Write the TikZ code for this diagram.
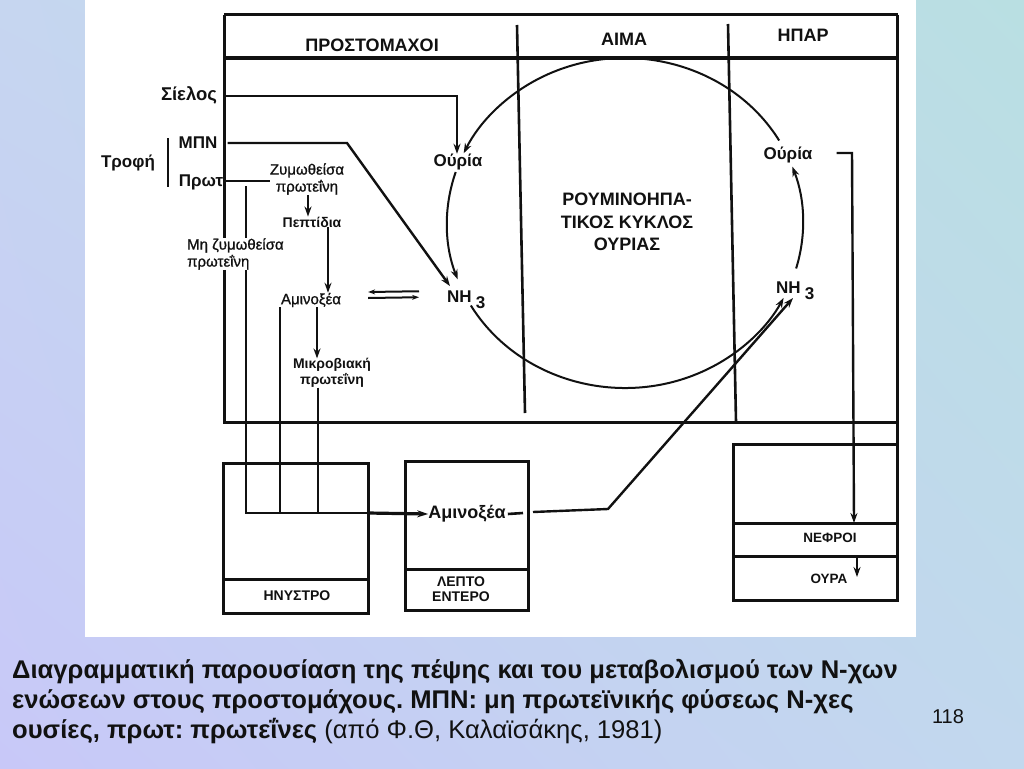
\documentclass[tikz,border=0pt]{standalone}
\usepackage{fontspec}
\setmainfont{Liberation Sans}
\newfontfamily\medfont[FakeBold=1]{Liberation Sans}
\usetikzlibrary{arrows.meta,calc,shadings}
\definecolor{bgUL}{HTML}{C6D6F0}
\definecolor{bgUR}{HTML}{B9DFE2}
\definecolor{bgLL}{HTML}{C8C8F8}
\definecolor{bgLR}{HTML}{C2D8EE}
\definecolor{ink}{HTML}{111111}
\frenchspacing
\begin{document}
\begin{tikzpicture}[x=1pt,y=-1pt,
  every node/.style={inner sep=0pt,text=ink},
  ln/.style={draw=ink,line width=2.6pt},
  frm/.style={draw=ink,line width=3pt},
  arr/.style={draw=ink,line width=2.4pt,-{Stealth[length=10pt,width=7pt]}},
  carr/.style={draw=ink,line width=2pt,-{Stealth[length=10pt,width=7pt]}},
  sarr/.style={draw=ink,line width=2pt,-{Stealth[length=7pt,width=5pt]}},
  hdr/.style={font=\fontsize{18}{20}\selectfont\bfseries},
  blab/.style={font=\fontsize{17}{19}\selectfont\bfseries},
  rlab/.style={font=\fontsize{15}{17}\selectfont\medfont,align=center},
  bsml/.style={font=\fontsize{14}{15.5}\selectfont\bfseries,align=center},
  tiny/.style={font=\fontsize{13.5}{15}\selectfont\bfseries},
  capb/.style={font=\fontsize{25.6}{30}\selectfont\bfseries,anchor=base west},
]
\useasboundingbox (0,0) rectangle (1024,768);
\shade[upper left=bgUL,upper right=bgUR,lower left=bgLL,lower right=bgLR] (0,0) rectangle (1024,768);
\fill[white] (85,0) rectangle (916,637);

% ---------- labels ----------
\node[hdr] (hP) at (372,45) {ΠΡΟΣΤΟΜΑΧΟΙ};
\node[hdr] (hA) at (624,39) {ΑΙΜΑ};
\node[hdr] (hH) at (803,35) {ΗΠΑΡ};
\node[blab,font=\fontsize{18.5}{19}\selectfont\bfseries] (sielos) at (189,95) {Σίελος};
\node[blab] (mpn) at (198,143) {ΜΠΝ};
\node[blab] (trofi) at (128,163) {Τροφή};
\node[blab] (prot) at (201,182) {Πρωτ};
\node[blab] (our1) at (458,162) {Ούρία};
\node[rlab] (zym) at (307,179) {Ζυμωθείσα\\πρωτεΐνη};
\node[bsml] (pept) at (312,222) {Πεπτίδια};
\node[rlab] (amino1) at (311,300) {Αμινοξέα};
\node[blab,anchor=base west] (nh1) at (447,302) {NH\kern4pt\raisebox{-6pt}{3}};
\node[bsml] (mikro) at (332,373) {Μικροβιακή\\πρωτεΐνη};
\node[rlab,align=left,anchor=west] (mi) at (187,254) {Μη ζυμωθείσα\\πρωτεΐνη};
\node[font=\fontsize{18}{22.5}\selectfont\bfseries,align=center] (cyc) at (627,222) {ΡΟΥΜΙΝΟΗΠΑ-\\ΤΙΚΟΣ ΚΥΚΛΟΣ\\ΟΥΡΙΑΣ};
\node[blab] (our2) at (788,155) {Ούρία};
\node[blab,anchor=base west] (nh2) at (776,293) {NH\kern4pt\raisebox{-6pt}{3}};
\node[bsml] (hny) at (297,596) {ΗΝΥΣΤΡΟ};
\node[bsml] (lep) at (461,589) {ΛΕΠΤΟ\\ΕΝΤΕΡΟ};
\node[blab,font=\fontsize{18}{19}\selectfont\bfseries] (amino2) at (467,514) {Αμινοξέα};
\node[tiny] (nef) at (830,538) {ΝΕΦΡΟΙ};
\node[tiny] (oura) at (829,579) {ΟΥΡΑ};

% ---------- frame ----------
\draw[frm] (224,15) -- (898,15);
\draw[frm] (224,58) -- (898,58);
\draw[frm] (224,15) -- (mi.north -| 224,0);
\draw[frm] (mi.south -| 224,0) -- (224,422) -- (897,422);
\draw[frm] (897,15) -- (897,600);
\draw[ln] (517,25) -- (525,413);
\draw[ln] (728,24) -- (736,422);
\draw[ln] (168,138) -- (168,187);

% ---------- boxes ----------
\draw[frm] (223,463) rectangle (368,613);
\draw[frm] (223,579) -- (368,579);
\draw[frm] (405,461) rectangle (528,610);
\draw[frm] (405,569) -- (528,569);
\draw[frm] (733,444) rectangle (897,600);
\draw[frm] (733,523) -- (897,523);
\draw[frm] (733,556) -- (897,556);

% ---------- cycle ----------
\coordinate (C) at (625,223);
\draw[carr] (C) ++(330:178 and 165) arc[start angle=330,end angle=205,x radius=178,y radius=165];
\draw[carr] (C) ++(198:178 and 165) arc[start angle=198,end angle=160,x radius=178,y radius=165];
\draw[carr] (C) ++(150:178 and 165) arc[start angle=150,end angle=27,x radius=178,y radius=165];
\draw[carr] (C) ++(16:178 and 165) arc[start angle=16,end angle=-20,x radius=178,y radius=165];

% ---------- connectors ----------
\coordinate (sS) at (224,96);
\draw[arr] (sS) -- (457,96) -- (our1.north -| 457,0);
\coordinate (mB) at (347,143);
\draw[arr] ($(mpn.east)+(10,0)$) -- (mB) -- ($(nh1.north west)+(3,-4)$);
\draw[ln] (224,181) -- (zym.west |- 0,181);
\draw[arr] (zym.south -| 308,0) -- (pept.north -| 308,0);
\draw[arr] (pept.south -| 328,0) -- (amino1.north -| 328,0);
\draw[sarr] ($(nh1.west)+(-28,-8)$) -- ($(amino1.east)+(27,-8)$);
\draw[sarr] ($(amino1.east)+(27,-2)$) -- ($(nh1.west)+(-28,-2)$);
\draw[arr] (amino1.south -| 317,0) -- (mikro.north -| 317,0);

\draw[ln] (246,186) -- (mi.north -| 246,0);
\coordinate (jL) at (246,513);
\draw[ln] (mi.south -| 246,0) -- (jL) -- (370,513);
\draw[ln] (amino1.south -| 280,0) -- (280,513);
\draw[ln] (mikro.south -| 318,0) -- (318,513);
\draw[draw=ink,line width=3.2pt,-{Stealth[length=11pt,width=7pt]}] (368,513) -- (amino2.west);

\coordinate (a2a) at (523,513);
\coordinate (a2b) at (533,512);
\coordinate (a2c) at (608,509);
\draw[ln] (amino2.east) ++(2,0) -- (a2a);
\draw[arr] (a2b) -- (a2c) -- (793,298);

\coordinate (hR) at (852,153);
\draw[arr] ($(our2.east)+(24,-2)$) -- (hR) -- (854,523);
\draw[arr] (857,557) -- (857,577);

% ---------- caption ----------
\node[capb] (cap1) at (12,678) {Διαγραμματική παρουσίαση της πέψης και του μεταβολισμού των Ν-χων};
\node[capb] (cap2) at (12,708) {ενώσεων στους προστομάχους. ΜΠΝ: μη πρωτεϊνικής φύσεως Ν-χες};
\node[capb] (cap3) at (12,738) {ουσίες, πρωτ: πρωτεΐνες \mdseries(από Φ.Θ, Καλαϊσάκης, 1981)};
\node[font=\fontsize{20}{22}\selectfont] (pg) at (948,717) {118};
\end{tikzpicture}
\end{document}
